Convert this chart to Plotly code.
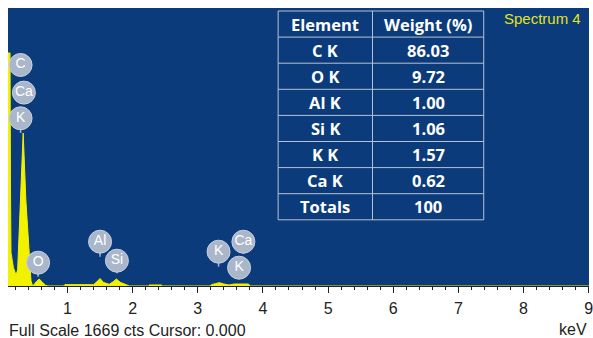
import plotly.graph_objects as go

# EDS spectrum (energy in keV, counts)
energy_kev = [0.087, 0.118, 0.125, 0.133, 0.170, 0.210, 0.235, 0.280, 0.320, 0.361,
              0.422, 0.440, 0.460, 0.480, 0.520, 0.565, 0.610, 0.660, 0.700, 0.940,
              0.960, 1.400, 1.450, 1.500, 1.550, 1.640, 1.700, 1.750, 1.810, 1.900,
              1.950, 2.240, 2.260, 2.440, 2.460, 3.190, 3.210, 3.270, 3.330, 3.400,
              3.480, 3.560, 3.780, 3.800, 9.005]
counts = [1399, 1399, 600, 200, 110, 66, 96, 516, 918, 516,
          96, 30, 5, 5, 25, 42, 25, 5, 0, 0,
          8, 8, 25, 45, 22, 10, 25, 42, 22, 8,
          0, 0, 6, 6, 0, 0, 8, 14, 20, 12,
          6, 12, 12, 0, 0]
full_scale = 1669

# Peak identification badges
badge_labels = ["C", "Ca", "K", "O", "Al", "Si", "K", "Ca", "K"]
badge_kev = [0.280, 0.331, 0.280, 0.549, 1.500, 1.759, 3.319, 3.700, 3.634]
badge_cts = [1327, 1161, 1007, 140, 266, 152, 206, 266, 110]
stem_end_cts = [None, None, 919, 56, 176, 76, 116, 192, 46]

# Quantification table
elements = ["C K", "O K", "Al K", "Si K", "K K", "Ca K", "Totals"]
weights = ["86.03", "9.72", "1.00", "1.06", "1.57", "0.62", "100"]
table_header = ["Element", "Weight (%)"]

x_ticks = [1, 2, 3, 4, 5, 6, 7, 8, 9]

BG = "#0b3b7b"
YELLOW = "#f2f200"
BADGE = "#aab6ca"
GRID = "#b7c2d6"

W, H = 593, 338
ML, MR, MT, MB = 8, 0, 8, 52
PW, PH = W - ML - MR, H - MT - MB


def px_x(px):
    return (px - ML) / PW


def px_y(py):
    return (H - MB - py) / PH


fig = go.Figure()

fig.add_trace(go.Scatter(
    x=energy_kev, y=counts, mode="lines", fill="tozeroy",
    line=dict(color=YELLOW, width=1), fillcolor=YELLOW, hoverinfo="skip",
))

# stems connecting badges to their peaks
sx, sy = [], []
for xk, yc, ye in zip(badge_kev, badge_cts, stem_end_cts):
    if ye is None:
        continue
    sx += [xk, xk, None]
    sy += [yc, ye, None]
fig.add_trace(go.Scatter(x=sx, y=sy, mode="lines",
                         line=dict(color=BADGE, width=1.5), hoverinfo="skip"))

fig.add_trace(go.Scatter(
    x=badge_kev, y=badge_cts, mode="markers+text", text=badge_labels,
    textposition="middle center",
    textfont=dict(family="Liberation Sans, Arial", size=14, color="white"),
    marker=dict(size=23, color=BADGE, line=dict(color="#c9d1de", width=1)),
    hoverinfo="skip", cliponaxis=False,
))

# table grid and cell text
tbl_left, tbl_mid, tbl_right, tbl_top, row_h = 280, 375, 487, 11, 26.1
rows = [table_header] + [[e, w] for e, w in zip(elements, weights)]
tbl_bottom = tbl_top + row_h * len(rows)
shapes = [dict(type="rect", xref="paper", yref="paper",
               x0=px_x(tbl_left), x1=px_x(tbl_right),
               y0=px_y(tbl_bottom), y1=px_y(tbl_top),
               line=dict(color=GRID, width=1), fillcolor=BG, layer="above")]
shapes.append(dict(type="line", xref="paper", yref="paper",
                   x0=px_x(tbl_mid), x1=px_x(tbl_mid),
                   y0=px_y(tbl_bottom), y1=px_y(tbl_top),
                   line=dict(color=GRID, width=1), layer="above"))
annotations = []
for i, row in enumerate(rows):
    y_top = tbl_top + row_h * i
    if i > 0:
        shapes.append(dict(type="line", xref="paper", yref="paper",
                           x0=px_x(tbl_left), x1=px_x(tbl_right),
                           y0=px_y(y_top), y1=px_y(y_top),
                           line=dict(color=GRID, width=1), layer="above"))
    for text, (a, b) in zip(row, [(tbl_left, tbl_mid), (tbl_mid, tbl_right)]):
        annotations.append(dict(
            text="<b>%s</b>" % text, xref="paper", yref="paper",
            x=px_x((a + b) / 2), y=px_y(y_top + row_h / 2),
            xanchor="center", yanchor="middle", showarrow=False,
            font=dict(family="Open Sans", size=16.5, color="white")))

annotations += [
    dict(text="Full Scale %d cts Cursor: 0.000" % full_scale, xref="paper", yref="paper",
         x=px_x(7), y=px_y(330), xanchor="left", yanchor="middle", showarrow=False,
         font=dict(family="Liberation Sans, Arial", size=16, color="#222")),
    dict(text="keV", xref="paper", yref="paper", x=1.0, y=px_y(329),
         xanchor="right", yanchor="middle", showarrow=False,
         font=dict(family="Liberation Sans, Arial", size=16, color="#222")),
    dict(text="Spectrum 4", xref="paper", yref="paper", x=px_x(587), y=px_y(19),
         xanchor="right", yanchor="middle", showarrow=False,
         font=dict(family="Liberation Sans, Arial", size=15, color="#e4e41a")),
]

fig.update_layout(
    width=W, height=H,
    margin=dict(l=ML, r=MR, t=MT, b=MB),
    paper_bgcolor="white", plot_bgcolor=BG,
    showlegend=False,
    shapes=shapes,
    annotations=annotations,
    xaxis=dict(range=[0.087, 9.005], tickvals=x_ticks, ticks="outside", ticklen=6,
               tickcolor="#222", showline=True, linecolor="#222", linewidth=1,
               showgrid=False, zeroline=False, ticklabelstandoff=2,
               ticklabeloverflow="allow",
               tickfont=dict(family="Liberation Sans, Arial", size=16, color="#222"),
               minor=dict(dtick=0.2, tick0=0, ticks="outside", ticklen=3,
                          tickcolor="#222", showgrid=False)),
    yaxis=dict(range=[0, full_scale], showticklabels=False, showgrid=False,
               zeroline=False, ticks=""),
)

fig.write_html("out.html")
